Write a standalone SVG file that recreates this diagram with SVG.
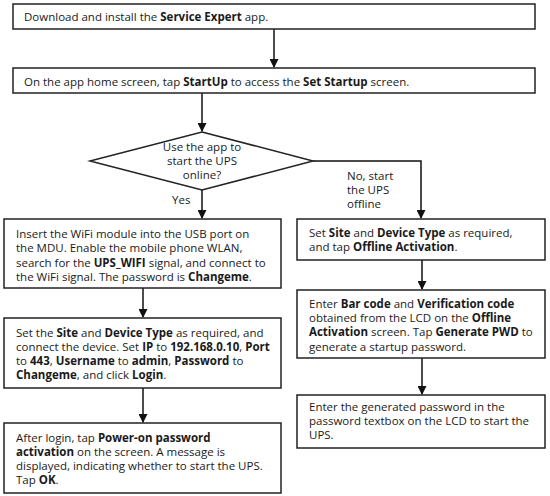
<svg xmlns="http://www.w3.org/2000/svg" width="550" height="496" viewBox="0 0 550 496">
<defs>
<marker id="ah" markerWidth="9" markerHeight="9" refX="8" refY="4.5" orient="auto" markerUnits="userSpaceOnUse">
<path d="M0,0 L9,4.5 L0,9 Z" fill="#111"/>
</marker>
<style>
.box{fill:#fff;stroke:#222;stroke-width:1.5}
.t{font-family:"Open Sans","Noto Sans",sans-serif;font-size:11.5px;fill:#1a1a1a}
.b{font-weight:bold}
.c{fill:none;stroke:#111;stroke-width:1.5}
</style>
</defs>
<rect width="550" height="496" fill="#fff"/>
<g id="connectors">
<path class="c" d="M274,29 V67" marker-end="url(#ah)"/>
<path class="c" d="M202,93 V131" marker-end="url(#ah)"/>
<path class="c" d="M202,190 V218" marker-end="url(#ah)"/>
<path class="c" d="M313,161 H421 V218" marker-end="url(#ah)"/>
<path class="c" d="M143,288 V317" marker-end="url(#ah)"/>
<path class="c" d="M143,388 V422" marker-end="url(#ah)"/>
<path class="c" d="M422,260 V289" marker-end="url(#ah)"/>
<path class="c" d="M422,358 V394" marker-end="url(#ah)"/>
<text class="t" x="172" y="204">Yes</text>
<text class="t" x="347" y="180">No, start</text>
<text class="t" x="347" y="194">the UPS</text>
<text class="t" x="347" y="208">offline</text>
</g>
<g id="n1">
<rect class="box" x="13" y="4" width="522" height="25"/>
<text class="t" x="24" y="21">Download and install the <tspan class="b">Service Expert</tspan> app.</text>
</g>
<g id="n2">
<rect class="box" x="13" y="68" width="522" height="25"/>
<text class="t" x="24" y="86">On the app home screen, tap <tspan class="b">StartUp</tspan> to access the <tspan class="b">Set Startup</tspan> screen.</text>
</g>
<g id="decision">
<polygon class="box" points="202,132 313,161 202,190 90,161"/>
<text class="t" text-anchor="middle" x="202" y="151">Use the app to</text>
<text class="t" text-anchor="middle" x="202" y="165">start the UPS</text>
<text class="t" text-anchor="middle" x="202" y="179">online?</text>
</g>
<g id="l1">
<rect class="box" x="4" y="219" width="277" height="69"/>
<text class="t" x="16" y="238">Insert the WiFi module into the USB port on</text>
<text class="t" x="16" y="252">the MDU. Enable the mobile phone WLAN,</text>
<text class="t" x="16" y="267">search for the <tspan class="b">UPS_WIFI</tspan> signal, and connect to</text>
<text class="t" x="16" y="281">the WiFi signal. The password is <tspan class="b">Changeme</tspan>.</text>
</g>
<g id="l2">
<rect class="box" x="4" y="318" width="277" height="70"/>
<text class="t" x="16" y="337">Set the <tspan class="b">Site</tspan> and <tspan class="b">Device Type</tspan> as required, and</text>
<text class="t" x="16" y="351">connect the device. Set <tspan class="b">IP</tspan> to <tspan class="b">192.168.0.10</tspan>, <tspan class="b">Port</tspan></text>
<text class="t" x="16" y="365">to <tspan class="b">443</tspan>, <tspan class="b">Username</tspan> to <tspan class="b">admin</tspan>, <tspan class="b">Password</tspan> to</text>
<text class="t" x="16" y="379"><tspan class="b">Changeme</tspan>, and click <tspan class="b">Login</tspan>.</text>
</g>
<g id="l3">
<rect class="box" x="4" y="423" width="277" height="70"/>
<text class="t" x="16" y="442">After login, tap <tspan class="b">Power-on password</tspan></text>
<text class="t" x="16" y="456"><tspan class="b">activation</tspan> on the screen. A message is</text>
<text class="t" x="16" y="470">displayed, indicating whether to start the UPS.</text>
<text class="t" x="16" y="484">Tap <tspan class="b">OK</tspan>.</text>
</g>
<g id="r1">
<rect class="box" x="297" y="219" width="248" height="41"/>
<text class="t" x="309" y="237">Set <tspan class="b">Site</tspan> and <tspan class="b">Device Type</tspan> as required,</text>
<text class="t" x="309" y="251">and tap <tspan class="b">Offline Activation</tspan>.</text>
</g>
<g id="r2">
<rect class="box" x="297" y="290" width="248" height="68"/>
<text class="t" x="309" y="308">Enter <tspan class="b">Bar code</tspan> and <tspan class="b">Verification code</tspan></text>
<text class="t" x="309" y="322">obtained from the LCD on the <tspan class="b">Offline</tspan></text>
<text class="t" x="309" y="336"><tspan class="b">Activation</tspan> screen. Tap <tspan class="b">Generate PWD</tspan> to</text>
<text class="t" x="309" y="351">generate a startup password.</text>
</g>
<g id="r3">
<rect class="box" x="297" y="395" width="248" height="53"/>
<text class="t" x="309" y="411">Enter the generated password in the</text>
<text class="t" x="309" y="425">password textbox on the LCD to start the</text>
<text class="t" x="309" y="439">UPS.</text>
</g>
</svg>
